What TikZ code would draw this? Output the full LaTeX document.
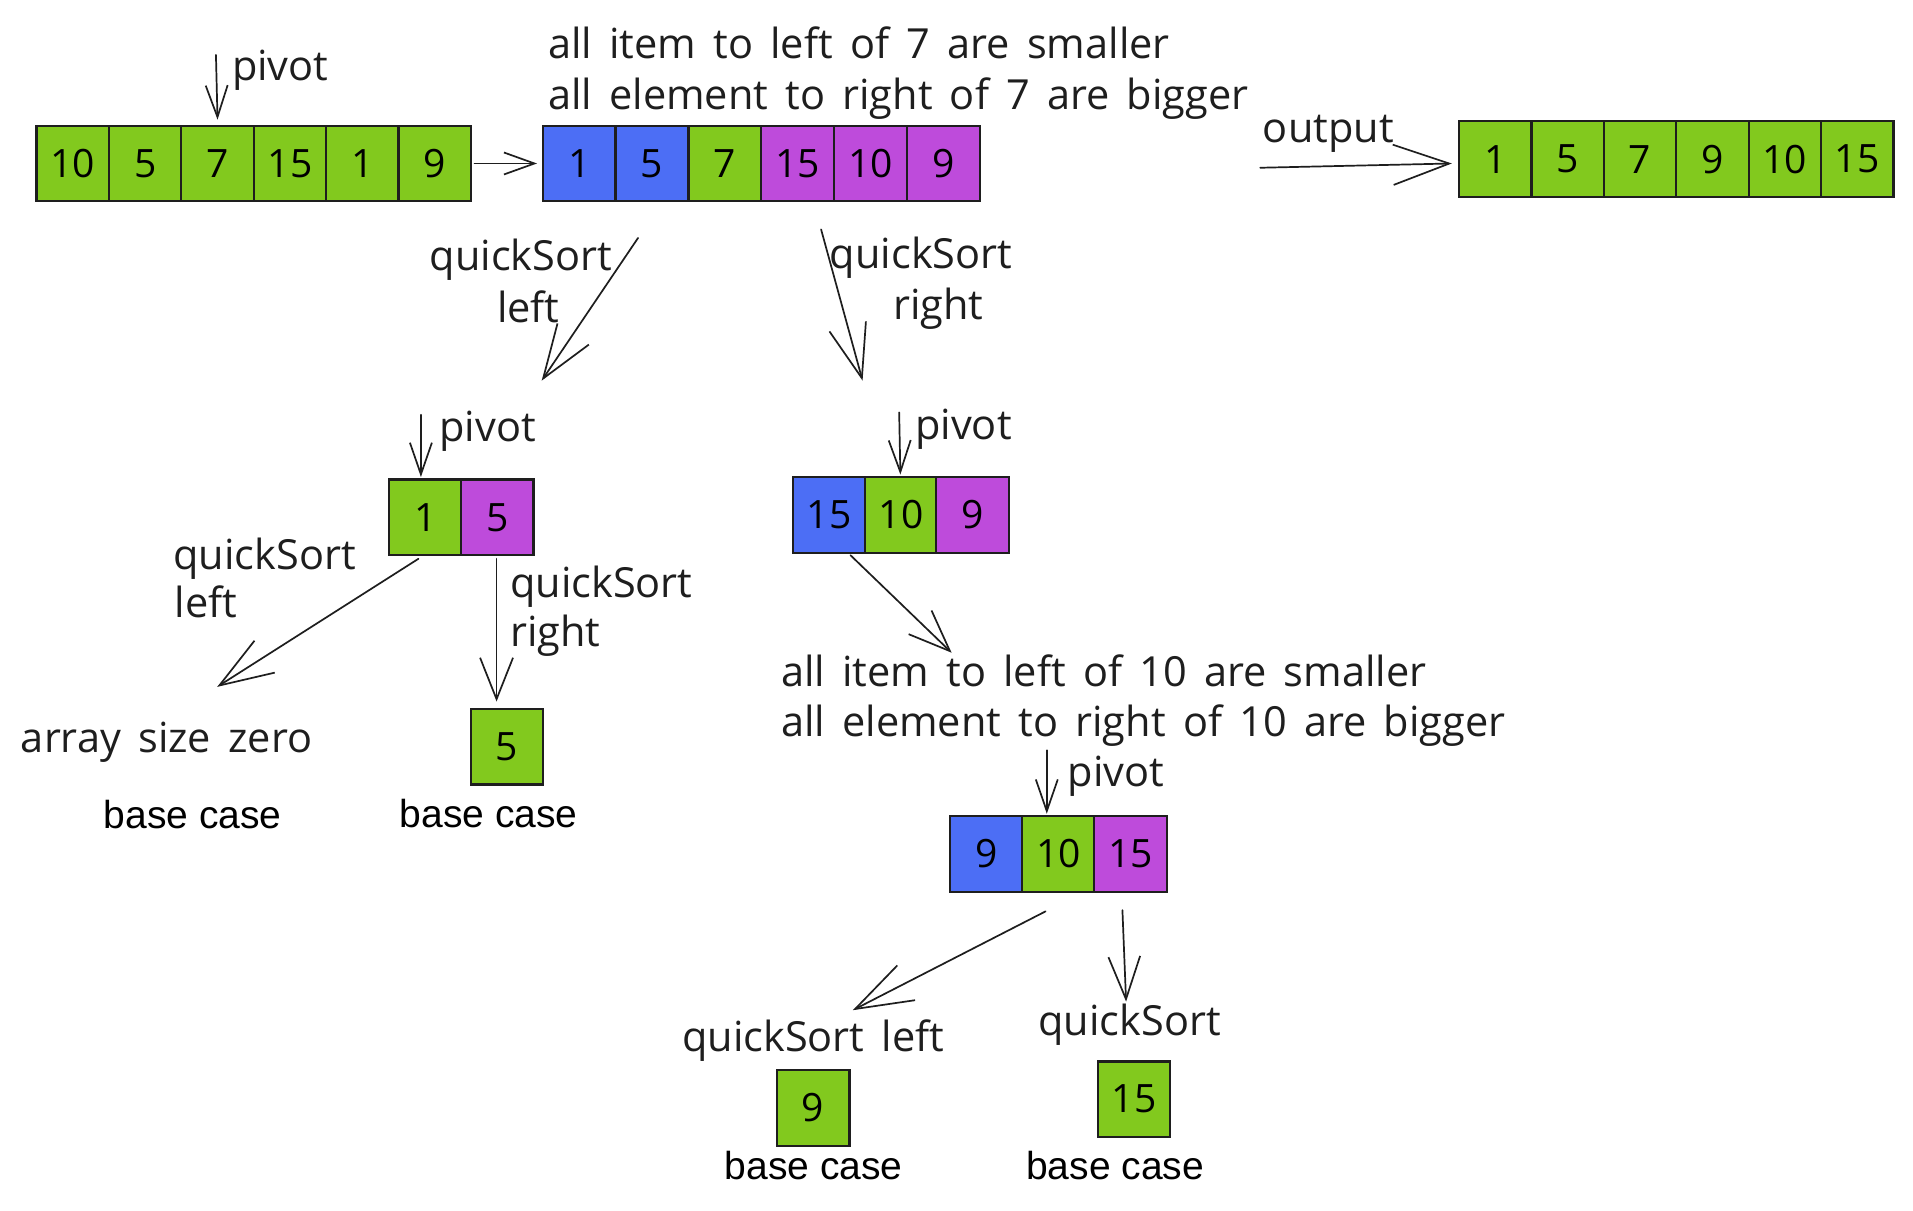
\documentclass[tikz,border=0pt]{standalone}
\usepackage{fontspec}
\setmainfont[WordSpace=1.6]{Open Sans}
\newfontfamily\basefont{Liberation Sans}
\usetikzlibrary{arrows.meta}
\definecolor{cgreen}{HTML}{82C91E}
\definecolor{cblue}{HTML}{4C6EF5}
\definecolor{cpurple}{HTML}{BE4BDB}
\definecolor{ink}{HTML}{1E1E1E}
\begin{document}
\begin{tikzpicture}[x=1pt,y=-1pt,
  cell/.style={draw=ink, line width=1.8pt, minimum width=59.5pt, minimum height=62pt, inner sep=0pt, font=\fontsize{32}{32}\selectfont},
  gcell/.style={cell, fill=cgreen},
  bcell/.style={cell, fill=cblue},
  pcell/.style={cell, fill=cpurple},
  hand/.style={font=\fontsize{34}{40}\selectfont, inner sep=0pt, anchor=base west, text=ink},
  handc/.style={hand, anchor=base},
  basec/.style={font=\basefont\fontsize{32}{36}\selectfont, inner sep=0pt, anchor=base, text=black},
  conn/.style={draw=ink, line width=1.4pt, line cap=round, line join=round},
  pivarr/.style={conn, -{Straight Barb[length=26pt,width=18pt]}},
  smarr/.style={conn, -{Straight Barb[length=25pt,width=18pt]}},
  bigarr/.style={conn, -{Straight Barb[length=44pt,width=31pt]}},
  midarr/.style={conn, -{Straight Barb[length=34pt,width=27pt]}}
]
\fill[white] (0,0) rectangle (1568,992);
\useasboundingbox (0,0) rectangle (1568,992);

% ---- input array
\node[gcell] (a1) at (59.7,134) {10};
\node[gcell] (a2) at (119,134) {5};
\node[gcell] (a3) at (178.3,134) {7};
\node[gcell] (a4) at (237.7,134) {15};
\node[gcell] (a5) at (297,134) {1};
\node[gcell] (a6) at (356.3,134) {9};
\node[hand] (pvt1) at (190,66) {pivot};
\coordinate (pv1) at (177,45);
\draw[pivarr] (pv1) -- ([yshift=4pt]a3.north);

% ---- partitioned array
\node[bcell] (b1) at (474.8,134) {1};
\node[bcell] (b2) at (534.5,134) {5};
\node[gcell] (b3) at (594.2,134) {7};
\node[pcell] (b4) at (653.8,134) {15};
\node[pcell] (b5) at (713.5,134) {10};
\node[pcell] (b6) at (773.2,134) {9};
\draw[smarr] ([xshift=2pt]a6.east) -- ([xshift=-4pt]b1.west);
\node[hand] (t1) at (449,48) {all item to left of 7 are smaller};
\node[hand] (t2) at (449,90) {all element to right of 7 are bigger};

% ---- output
\node[gcell] (c1) at (1225.7,130.5) {1};
\node[gcell] (c2) at (1285,130.5) {5};
\node[gcell] (c3) at (1344.3,130.5) {7};
\node[gcell] (c4) at (1403.7,130.5) {9};
\node[gcell] (c5) at (1463,130.5) {10};
\node[gcell] (c6) at (1522.3,130.5) {15};
\node[hand] (outl) at (1035,117) {output};
\coordinate (os) at (1033,137.5);
\coordinate (oe) at (1190,134);
\draw[conn, -{Straight Barb[length=46pt,width=33pt]}] (os) -- (oe);

% ---- quickSort left / right (top level)
\coordinate (ql1) at (523,195);
\coordinate (ql2) at (444,312);
\draw[bigarr] (ql1) -- (ql2);
\node[handc] (qlt) at (427,222) {quickSort};
\node[handc] (qlb) at (433,264) {left};
\coordinate (qr1) at (673,188);
\coordinate (qr2) at (707,312);
\draw[bigarr] (qr1) -- (qr2);
\node[handc] (qrt) at (755,220) {quickSort};
\node[handc] (qrb) at (769,262) {right};

% ---- left sub-array
\node[gcell] (l1) at (348.5,424) {1};
\node[pcell] (l2) at (407.5,424) {5};
\coordinate (pv2) at (345,340);
\draw[pivarr] (pv2) -- (345,391);
\node[hand] (pvt2) at (360,362) {pivot};

\coordinate (ll1) at (343,458);
\coordinate (ll2) at (178,563);
\draw[bigarr] (ll1) -- (ll2);
\node[hand] (llt) at (142,467) {quickSort};
\node[hand] (llb) at (143,506) {left};
\node[hand] (zero) at (17,617) {array size zero};
\node[basec] (bc1) at (158,679) {base case};

\coordinate (lr1) at (407,458);
\coordinate (lr2) at (407,575);
\draw[midarr] (lr1) -- (lr2);
\node[hand] (lrt) at (418,490) {quickSort};
\node[hand] (lrb) at (418,530) {right};
\node[gcell] (f5) at (415.5,612) {5};
\node[basec] (bc2) at (400.5,678) {base case};

% ---- right sub-array
\node[bcell] (r1) at (679.5,422) {15};
\node[gcell] (r2) at (738.5,422) {10};
\node[pcell] (r3) at (797,422) {9};
\coordinate (pv3) at (737,338);
\draw[pivarr] (pv3) -- (738,389);
\node[hand] (pvt3) at (750,360) {pivot};
\coordinate (rr1) at (697,455);
\coordinate (rr2) at (780,535);
\draw[midarr] (rr1) -- (rr2);
\node[hand] (t3) at (640,563) {all item to left of 10 are smaller};
\node[hand] (t4) at (640,604) {all element to right of 10 are bigger};

% ---- lower sub-array
\node[bcell] (s1) at (808.5,700) {9};
\node[gcell] (s2) at (867.5,700) {10};
\node[pcell] (s3) at (926.5,700) {15};
\coordinate (pv4) at (858,615);
\draw[pivarr] (pv4) -- (858,667);
\node[hand] (pvt4) at (875,645) {pivot};

\coordinate (sl1) at (857,747);
\coordinate (sl2) at (699,828);
\draw[conn, -{Straight Barb[length=47pt,width=32pt]}] (sl1) -- (sl2);
\node[hand] (slt) at (559,862) {quickSort left};
\node[gcell] (f9) at (666.5,908) {9};
\node[basec] (bc3) at (667,967) {base case};

\coordinate (sr1) at (920,746);
\coordinate (sr2) at (923,821);
\draw[conn, -{Straight Barb[length=35pt,width=26pt]}] (sr1) -- (sr2);
\node[hand] (srt) at (851,849) {quickSort};
\node[gcell] (f15) at (929.5,901) {15};
\node[basec] (bc4) at (914,967) {base case};
\end{tikzpicture}
\end{document}
